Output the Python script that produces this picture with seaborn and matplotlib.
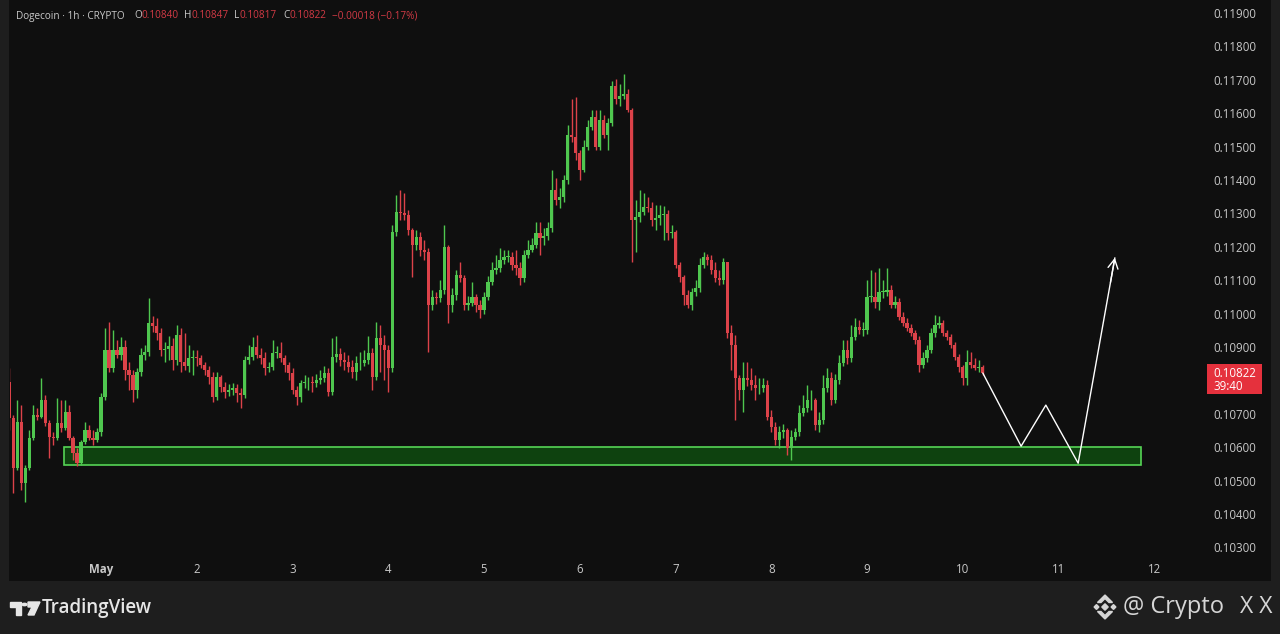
import numpy as np
import pandas as pd
import matplotlib
matplotlib.use("Agg")
import matplotlib.pyplot as plt
from matplotlib.patches import Rectangle, Polygon, Circle
from matplotlib import transforms
import seaborn as sns

# Dogecoin 1h candles, prices in 1e-5 units; hour 0 = May 1 00:00
first_open = 10795
close_apr30 = [10687, 10537, 10675, 10492, 10537, 10627, 10696, 10690, 10741, 10672, 10630, 10627,
               10672, 10657, 10705, 10627, 10582, 10552, 10615, 10651, 10627, 10621, 10645]
high_apr30 = [10837, 10696, 10741, 10726, 10546, 10651, 10726, 10717, 10807, 10756, 10681, 10645,
              10747, 10741, 10741, 10726, 10633, 10597, 10621, 10675, 10666, 10651, 10657]
low_apr30 = [10651, 10462, 10531, 10471, 10435, 10531, 10621, 10681, 10687, 10663, 10567, 10606,
             10621, 10645, 10651, 10621, 10561, 10543, 10546, 10609, 10621, 10606, 10615]

close_may = [
    [10750, 10891, 10837, 10891, 10876, 10900, 10831, 10816, 10771, 10825, 10876, 10885,
     10972, 10963, 10942, 10891, 10894, 10903, 10861, 10936, 10855, 10843, 10867, 10870],
    [10867, 10846, 10831, 10810, 10750, 10810, 10780, 10765, 10771, 10777, 10762, 10756,
     10861, 10870, 10900, 10876, 10867, 10837, 10840, 10882, 10882, 10867, 10846, 10822],
    [10771, 10750, 10792, 10795, 10795, 10792, 10801, 10807, 10822, 10765, 10870, 10879,
     10861, 10855, 10840, 10825, 10852, 10852, 10861, 10882, 10810, 10927, 10906, 10891],
    [10837, 11245, 11305, 11302, 11296, 11251, 11206, 11230, 11191, 11185, 11026, 11050,
     11047, 11071, 11200, 11026, 11056, 11116, 11107, 11026, 11032, 11050, 11026, 11011],
    [11050, 11095, 11131, 11137, 11161, 11170, 11170, 11146, 11137, 11107, 11176, 11191,
     11206, 11242, 11227, 11233, 11257, 11371, 11341, 11350, 11401, 11536, 11530, 11482],
    [11431, 11500, 11560, 11590, 11500, 11581, 11536, 11572, 11680, 11641, 11650, 11656,
     11611, 11281, 11290, 11305, 11320, 11317, 11281, 11287, 11296, 11299, 11242, 11245],
    [11146, 11110, 11056, 11026, 11065, 11077, 11146, 11170, 11161, 11131, 11107, 11101,
     11155, 10942, 10906, 10807, 10771, 10807, 10801, 10786, 10777, 10777, 10786, 10690],
    [10660, 10621, 10645, 10651, 10597, 10630, 10645, 10702, 10717, 10741, 10741, 10666,
     10681, 10777, 10807, 10741, 10801, 10852, 10891, 10867, 10930, 10960, 10951, 10951],
    [11050, 11050, 11035, 11065, 11065, 11071, 11026, 11035, 10990, 10972, 10957, 10942,
     10921, 10846, 10867, 10891, 10942, 10966, 10972, 10942, 10930, 10906, 10870, 10840],
    [10807, 10855, 10846, 10837, 10840, 10822],
]
high_may = [
    [10762, 10957, 10975, 10951, 10921, 10930, 10921, 10855, 10831, 10837, 10897, 10906,
     11047, 10993, 10987, 10957, 10915, 10933, 10927, 10966, 10957, 10942, 10906, 10891],
    [10891, 10876, 10855, 10843, 10825, 10825, 10816, 10795, 10789, 10792, 10789, 10777,
     10873, 10906, 10930, 10936, 10897, 10885, 10855, 10921, 10903, 10915, 10876, 10855],
    [10837, 10783, 10801, 10816, 10810, 10813, 10819, 10831, 10843, 10837, 10927, 10933,
     10897, 10885, 10876, 10861, 10873, 10885, 10891, 10933, 10897, 10975, 10966, 10936],
    [10906, 11266, 11356, 11371, 11362, 11311, 11257, 11251, 11245, 11221, 11197, 11071,
     11065, 11101, 11266, 11206, 11077, 11131, 11155, 11116, 11053, 11095, 11059, 11041],
    [11065, 11113, 11155, 11176, 11197, 11191, 11191, 11185, 11191, 11155, 11191, 11221,
     11227, 11275, 11275, 11257, 11275, 11431, 11407, 11377, 11416, 11566, 11641, 11647],
    [11491, 11521, 11581, 11611, 11611, 11611, 11596, 11587, 11695, 11701, 11686, 11716,
     11671, 11617, 11341, 11371, 11362, 11350, 11335, 11326, 11326, 11323, 11311, 11266],
    [11251, 11155, 11116, 11071, 11077, 11101, 11167, 11185, 11179, 11176, 11155, 11131,
     11167, 11155, 10966, 10936, 10816, 10855, 10855, 10837, 10816, 10807, 10807, 10801],
    [10711, 10675, 10663, 10669, 10657, 10651, 10657, 10726, 10756, 10786, 10771, 10747,
     10705, 10816, 10837, 10825, 10819, 10876, 10921, 10921, 10966, 10987, 10981, 10975],
    [11101, 11131, 11125, 11137, 11101, 11137, 11086, 11053, 11047, 11005, 10987, 10969,
     10951, 10933, 10885, 10906, 10957, 10996, 10993, 10981, 10951, 10939, 10915, 10879],
    [10846, 10891, 10885, 10867, 10861, 10847],
]
low_may = [
    [10633, 10741, 10825, 10825, 10867, 10861, 10801, 10771, 10735, 10747, 10813, 10861,
     10873, 10945, 10921, 10873, 10855, 10861, 10831, 10846, 10825, 10831, 10825, 10816],
    [10843, 10837, 10816, 10789, 10735, 10741, 10765, 10747, 10753, 10756, 10735, 10717,
     10747, 10849, 10861, 10867, 10849, 10816, 10825, 10831, 10867, 10855, 10825, 10801],
    [10759, 10726, 10735, 10777, 10771, 10765, 10780, 10789, 10795, 10753, 10756, 10855,
     10843, 10831, 10825, 10807, 10801, 10831, 10843, 10849, 10771, 10801, 10825, 10801],
    [10765, 10825, 11233, 11281, 11281, 11236, 11110, 11191, 11173, 11161, 10885, 11011,
     11029, 11035, 11059, 10972, 11005, 11041, 11095, 11011, 11011, 11023, 11005, 10987],
    [10999, 11041, 11086, 11119, 11125, 11149, 11155, 11131, 11116, 11086, 11095, 11167,
     11185, 11197, 11176, 11206, 11221, 11245, 11326, 11317, 11335, 11389, 11515, 11461],
    [11401, 11425, 11491, 11551, 11491, 11491, 11527, 11491, 11563, 11629, 11623, 11641,
     11605, 11155, 11185, 11275, 11296, 11305, 11263, 11251, 11266, 11221, 11221, 11227],
    [11137, 11095, 11026, 11017, 11011, 11053, 11065, 11137, 11146, 11119, 11095, 11086,
     11089, 10927, 10831, 10681, 10741, 10705, 10783, 10771, 10741, 10759, 10765, 10681],
    [10645, 10606, 10597, 10627, 10576, 10561, 10621, 10633, 10693, 10705, 10711, 10651,
     10645, 10669, 10765, 10726, 10732, 10789, 10843, 10849, 10855, 10921, 10939, 10933],
    [10939, 11035, 11017, 11011, 11047, 11053, 11017, 11017, 10981, 10963, 10948, 10933,
     10909, 10825, 10837, 10855, 10882, 10930, 10957, 10933, 10921, 10897, 10861, 10825],
    [10786, 10786, 10837, 10831, 10825, 10817],
]

# support zone and projected path (hours since May 1)
zone_hours = [-9.3, 260.6]
zone_prices = [0.10548, 0.10600]
path_hours = [221, 230.6, 236.8, 244.9, 254.1]
path_prices = [0.10822, 0.10603, 0.10726, 0.10552, 0.11167]

day_ticks = ["May", "2", "3", "4", "5", "6", "7", "8", "9", "10", "11", "12"]
price_ticks = [0.103, 0.104, 0.105, 0.106, 0.107, 0.109, 0.110, 0.111,
               0.112, 0.113, 0.114, 0.115, 0.116, 0.117, 0.118, 0.119]

closes = close_apr30 + sum(close_may, [])
highs = high_apr30 + sum(high_may, [])
lows = low_apr30 + sum(low_may, [])
opens = [first_open] + closes[:-1]
df = pd.DataFrame({"hour": np.arange(-23, -23 + len(closes)),
                   "open": np.array(opens) / 1e5, "close": np.array(closes) / 1e5,
                   "high": np.array(highs) / 1e5, "low": np.array(lows) / 1e5})
df["high"] = df[["high", "open", "close"]].max(axis=1)
df["low"] = df[["low", "open", "close"]].min(axis=1)

BG = "#0f0f0f"
FRAME = "#1e1e1e"
UP = "#4fc74f"
DOWN = "#dc4249"
TXT = "#c8c8c8"

sns.set_theme(style="dark", rc={"axes.facecolor": BG, "figure.facecolor": BG})
plt.rcParams["font.family"] = ["Open Sans", "DejaVu Sans"]

W, H = 1280, 634
fig = plt.figure(figsize=(12.8, 6.34), dpi=100)
ax = fig.add_axes([10 / W, 1 - 555 / H, 1180 / W, 555 / H])
ax.set_facecolor(BG)

def fx(x):
    return x / W

def fy(y):
    return 1 - y / H

# candles
up = df["close"] >= df["open"]
colors = np.where(up, UP, DOWN)
ax.vlines(df["hour"], df["low"], df["high"], colors=colors, lw=1.0, zorder=3)
body = (df["close"] - df["open"]).abs().clip(lower=0.000015)
ax.bar(df["hour"], body, bottom=df[["open", "close"]].min(axis=1), width=0.8,
       color=colors, linewidth=0, zorder=4)

# support zone
ax.add_patch(Rectangle((zone_hours[0], zone_prices[0]), zone_hours[1] - zone_hours[0],
                       zone_prices[1] - zone_prices[0], facecolor="#0e420f",
                       edgecolor="#55d455", lw=1.2, zorder=2))

# projected path
sns.lineplot(x=path_hours, y=path_prices, ax=ax, color="white", lw=1.0,
             sort=False, estimator=None, zorder=5)
tail_h = path_hours[-1] - 0.12 * (path_hours[-1] - path_hours[-2])
tail_p = path_prices[-1] - 0.12 * (path_prices[-1] - path_prices[-2])
ax.annotate("", xy=(path_hours[-1], path_prices[-1]), xytext=(tail_h, tail_p),
            arrowprops=dict(arrowstyle="->,head_length=0.55,head_width=0.3",
                            color="white", lw=1.0, shrinkA=0, shrinkB=0), zorder=5)

# axes
ax.set_xlim(-22.81, 272.93)
ax.set_ylim(0.102772, 0.119389)
for s in ax.spines.values():
    s.set_visible(False)
ax.grid(False)
ax.set_xticks(np.arange(0, 24 * len(day_ticks), 24))
ax.set_xticklabels(day_ticks)
ax.xaxis.get_ticklabels()[0].set_fontweight("bold")
ax.yaxis.tick_right()
ax.set_yticks(price_ticks)
ax.set_yticklabels([f"{p:.5f}" for p in price_ticks])
ax.tick_params(axis="y", length=0, pad=16.5, labelsize=8.3, labelcolor=TXT)
ax.tick_params(axis="x", length=0, pad=5.5, labelsize=8.3, labelcolor=TXT)
ax.set_xlabel("")
ax.set_ylabel("")

# last price tag
last = df.iloc[-1]
px = 2.994e-5
blend = transforms.blended_transform_factory(ax.transAxes, ax.transData)
ax.add_patch(Rectangle((1197 / 1180, last["close"] - 21 * px), 55 / 1180, 30 * px,
                       transform=blend, facecolor="#e5313d", edgecolor="none",
                       clip_on=False, zorder=6))
ax.text(1203 / 1180, last["close"], f"{last['close']:.5f}", transform=blend, color="white",
        fontsize=8.3, va="center", ha="left", clip_on=False, zorder=7)
ax.text(1203 / 1180, last["close"] - 13 * px, "39:40", transform=blend, color="white",
        fontsize=8.3, va="center", ha="left", clip_on=False, zorder=7)

# frame strips
fig.patches.append(Rectangle((0, 0), 1, fy(581), transform=fig.transFigure,
                             facecolor=FRAME, edgecolor="none"))
fig.patches.append(Rectangle((0, 0), fx(9), 1, transform=fig.transFigure,
                             facecolor=FRAME, edgecolor="none"))
fig.patches.append(Rectangle((fx(1271), 0), 1, 1, transform=fig.transFigure,
                             facecolor=FRAME, edgecolor="none"))

# header legend
hdr_y = fy(16)
red_txt = "#d23a45"
fig.text(fx(16), hdr_y, "Dogecoin · 1h · CRYPTO", color=TXT, fontsize=7.2, va="center")
items = [(134, "O", TXT), (142, f"{last['open']:.5f}", red_txt),
         (184, "H", TXT), (191, f"{last['high']:.5f}", red_txt),
         (234, "L", TXT), (240, f"{last['low']:.5f}", red_txt),
         (283, "C", TXT), (290, f"{last['close']:.5f}", red_txt),
         (332, "−0.00018 (−0.17%)", red_txt)]
for x, s, c in items:
    fig.text(fx(x), hdr_y, s, color=c, fontsize=7.2, va="center")

# TradingView logo
logo_c = "#e6e6e6"
fig.patches.append(Polygon([(fx(10), fy(602)), (fx(21), fy(602)), (fx(21), fy(615)),
                            (fx(16), fy(615)), (fx(16), fy(607)), (fx(10), fy(607))],
                           closed=True, transform=fig.transFigure, color=logo_c))
fig.patches.append(Circle((fx(24.5), fy(604.5)), 2.4 / W, transform=fig.transFigure,
                          color=logo_c))
fig.patches.append(Polygon([(fx(28), fy(602)), (fx(40), fy(602)), (fx(34), fy(615)),
                            (fx(28), fy(615)), (fx(32), fy(607)), (fx(28), fy(607))],
                           closed=True, transform=fig.transFigure, color=logo_c))
fig.text(fx(42), fy(608), "TradingView", color=logo_c, fontsize=13.5,
         fontweight="semibold", va="center", ha="left")

# watermark
wm_c = "#d6d6d6"
cx, cy = 1105, 607
for dx, r in [(0, 3.2), (-8.5, 2.4), (8.5, 2.4)]:
    x0 = cx + dx
    fig.patches.append(Polygon([(fx(x0), fy(cy - r)), (fx(x0 + r), fy(cy)),
                                (fx(x0), fy(cy + r)), (fx(x0 - r), fy(cy))],
                               closed=True, transform=fig.transFigure, color=wm_c))
for sy in (-1, 1):
    pts = [(cx - 7.5, cy + sy * 4.5), (cx, cy + sy * 12), (cx + 7.5, cy + sy * 4.5),
           (cx + 4, cy + sy * 4.5), (cx, cy + sy * 8.5), (cx - 4, cy + sy * 4.5)]
    fig.patches.append(Polygon([(fx(a), fy(b)) for a, b in pts], closed=True,
                               transform=fig.transFigure, color=wm_c))
fig.text(fx(1123), fy(607), "@ Crypto", color=wm_c, fontsize=17, va="center", ha="left")
fig.text(fx(1273), fy(607), "X X", color=wm_c, fontsize=16.5, va="center", ha="right")

fig.savefig("out.png", dpi=100, facecolor=BG)
